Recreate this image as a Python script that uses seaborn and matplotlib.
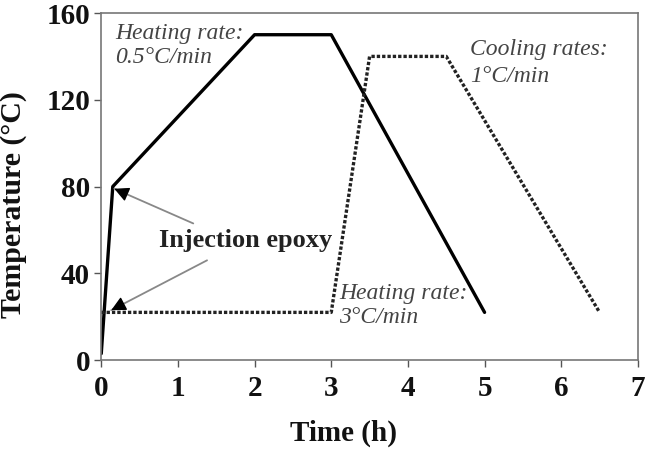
import seaborn as sns
import matplotlib.pyplot as plt
import pandas as pd

# cure cycle with injection at room temp vs injection at 80C
time_a = [0, 0.15, 2, 3, 5]
temp_a = [3, 80, 150, 150, 22]
time_b = [0, 3, 3.5, 4.5, 6.5]
temp_b = [22, 22, 140, 140, 22]

xticks = [0, 1, 2, 3, 4, 5, 6, 7]
yticks = [0, 40, 80, 120, 160]

df_a = pd.DataFrame({'time': time_a, 'temp': temp_a})
df_b = pd.DataFrame({'time': time_b, 'temp': temp_b})

sns.set_style('white')
plt.rcParams['font.family'] = ['Liberation Serif', 'DejaVu Serif']

fig = plt.figure(figsize=(6.45, 4.49), dpi=100)
ax = fig.add_axes([0.157, 0.198, 0.832, 0.773])

sns.lineplot(data=df_a, x='time', y='temp', sort=False, color='black', lw=2.4, ax=ax)
sns.lineplot(data=df_b, x='time', y='temp', sort=False, color='#222222', lw=2.4,
             linestyle=(0, (1, 0.6)), ax=ax)

ax.set_xlim(0, 7)
ax.set_ylim(0, 160)
ax.set_xticks(xticks)
ax.set_yticks(yticks)
ax.tick_params(axis='both', which='both', direction='out', length=5, width=1,
               color='#555555', labelsize=21, left=True, bottom=True)
ax.tick_params(axis='x', pad=6)
ax.tick_params(axis='y', pad=3)
for lab in ax.get_xticklabels() + ax.get_yticklabels():
    lab.set_fontweight('bold')
    lab.set_color('#111111')
for s in ax.spines.values():
    s.set_color('#777777')
    s.set_linewidth(1.2)

ax.set_xlabel('Time (h)', fontsize=21, fontweight='bold', color='#111111')
ax.set_ylabel('Temperature (°C)', fontsize=21.5, fontweight='bold', color='#111111')
ax.xaxis.set_label_coords(0.452, -0.172)
ax.yaxis.set_label_coords(-0.138, 0.447)

note = dict(fontsize=17, style='italic', color='#444444', va='center', ha='left')
ax.text(0.18, 145, 'Heating rate:\n0.5°C/min', linespacing=1.2, **note)
ax.text(4.81, 137, 'Cooling rates:\n1°C/min', linespacing=1.35, **note)
ax.text(3.1, 25, 'Heating rate:\n3°C/min', linespacing=1.2, **note)

# gray shafts, black heads
shaft = dict(arrowstyle='-', color='#888888', lw=1.3, shrinkA=0, shrinkB=0)
head = dict(arrowstyle='-|>', color='black', lw=1.0, mutation_scale=22,
            shrinkA=0, shrinkB=0)
ax.annotate('', xy=(0.17, 79), xytext=(1.2, 63), arrowprops=shaft)
ax.annotate('', xy=(0.17, 79), xytext=(0.3, 77), arrowprops=head)
ax.annotate('', xy=(0.13, 23), xytext=(1.38, 46), arrowprops=shaft)
ax.annotate('', xy=(0.13, 23), xytext=(0.26, 25.4), arrowprops=head)
ax.text(1.88, 55, 'Injection epoxy', fontsize=19, fontweight='bold',
        ha='center', va='center', color='#222222')

fig.savefig('out.png', dpi=100)
